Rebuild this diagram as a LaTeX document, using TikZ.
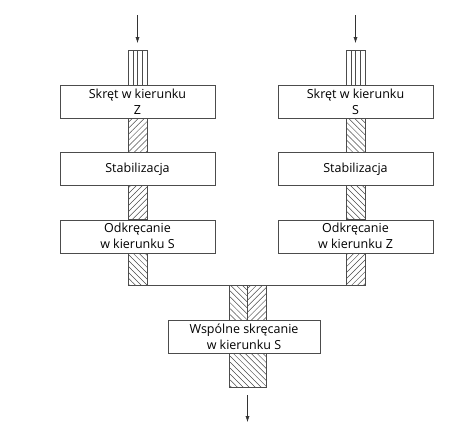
\documentclass[tikz,border=0pt]{standalone}
\usepackage{fontspec}
\setmainfont{Open Sans}
\usetikzlibrary{positioning,patterns.meta,arrows.meta}
\tikzset{
  stage/.style={draw=black!70, fill=white, minimum width=155pt, minimum height=33pt,
    align=center, inner sep=1pt, font=\fontsize{12.5}{16}\selectfont},
  strand/.style={draw=black!70},
  hatchR/.style={strand, pattern={Lines[angle=45,distance=4.2pt,line width=0.5pt]}, pattern color=black!70},
  hatchL/.style={strand, pattern={Lines[angle=-45,distance=4.2pt,line width=0.5pt]}, pattern color=black!70},
  feed/.style={-{Latex[length=6pt,width=4pt]}, black!80},
}
\begin{document}
\begin{tikzpicture}[x=1pt, y=-1pt, node distance=34pt]
\useasboundingbox (0,0) rectangle (471,429);
% left column
\node[stage] (Z1) at (137.5,101.5) {Skręt w kierunku\\Z};
\node[stage] (Z2) [below=of Z1] {Stabilizacja};
\node[stage] (Z3) [below=of Z2] {Odkręcanie\\w kierunku S};
% right column
\node[stage] (S1) at (355.5,101.5) {Skręt w kierunku\\S};
\node[stage] (S2) [below=of S1] {Stabilizacja};
\node[stage] (S3) [below=of S2] {Odkręcanie\\w kierunku Z};
% joint stage
\node[stage, minimum width=152pt] (W) at (244,336.5) {Wspólne skręcanie\\w kierunku S};
% strands
\foreach \c/\a/\b in {Z/hatchR/hatchL, S/hatchL/hatchR} {
  \draw[strand] ([xshift=-9.5pt]\c1.north) rectangle ([xshift=9.5pt]\c1.north|-0,50);
  \foreach \i in {1,2,3}
    \draw[black!70] ([xshift=-9.5pt+\i*4.75pt]\c1.north) -- ([xshift=-9.5pt+\i*4.75pt]\c1.north|-0,50);
  \draw[\a] ([xshift=-9.5pt]\c1.south) rectangle ([xshift=9.5pt]\c2.north);
  \draw[\a] ([xshift=-9.5pt]\c2.south) rectangle ([xshift=9.5pt]\c3.north);
  \draw[\b] ([xshift=-9.5pt]\c3.south) rectangle ([xshift=9.5pt]\c3.south|-0,285);
}
\coordinate (Wtop) at (247.5,285);
\draw[hatchL] ([xshift=-18.5pt]Wtop) rectangle (W.north-|Wtop);
\draw[hatchR] (Wtop) rectangle ([xshift=18.5pt]W.north-|Wtop);
\draw[hatchL] ([xshift=-18.5pt]W.south-|Wtop) rectangle ([xshift=18.5pt]Wtop|-0,387);
% join line
\draw[black!70] ([xshift=9.5pt]Z3.south|-0,285) -- ([xshift=-9.5pt]S3.south|-0,285);
% feed arrows
\coordinate (inZ) at (137.5,15);
\coordinate (inS) at (355.5,15);
\coordinate (out) at (247.5,422);
\draw[feed] (inZ) -- ([yshift=7pt]inZ|-0,50);
\draw[feed] (inS) -- ([yshift=7pt]inS|-0,50);
\draw[feed] ([yshift=-8pt]Wtop|-0,387) -- (out);
\end{tikzpicture}
\end{document}
